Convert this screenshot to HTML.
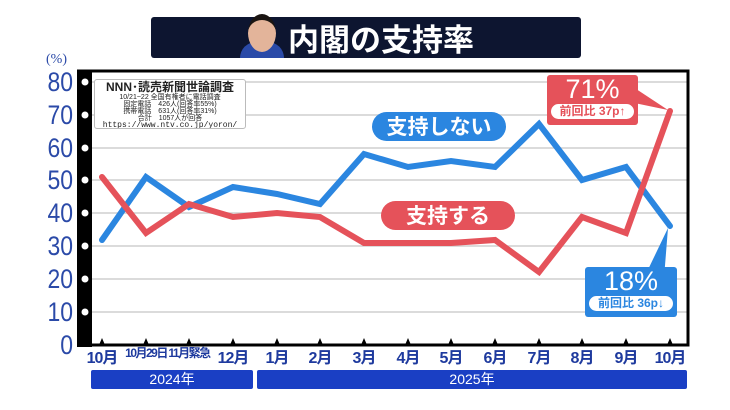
<!DOCTYPE html>
<html><head><meta charset="utf-8"><style>
body{margin:0;width:730px;height:410px;background:#fff;overflow:hidden;position:relative;font-family:"Liberation Sans","Noto Sans CJK JP",sans-serif}
.a{position:absolute}
.yl{position:absolute;right:657px;width:60px;text-align:right;color:#2b4aa8;font-family:"Liberation Sans","Noto Sans CJK JP",sans-serif;font-size:27px;line-height:29px;transform:scaleX(0.85);transform-origin:right}
.ml{position:absolute;top:344px;width:50px;text-align:center;color:#1e3a9e;font-weight:bold;font-size:16px;letter-spacing:-1px;white-space:nowrap;font-family:"Liberation Sans","Noto Sans CJK JP",sans-serif}
</style></head><body>
<div class="a" style="left:151px;top:17px;width:430px;height:41px;background:#0d1530;border-radius:3px"></div>
<div class="a" style="left:288px;top:17px;height:41px;line-height:41px;color:#fff;font-size:31px;font-weight:bold;font-family:'Noto Sans CJK JP',sans-serif">内閣の支持率</div>
<div class="a" style="left:240px;top:42px;width:44px;height:16px;background:#2a4aa8;border-radius:20px 20px 0 0"></div>
<div class="a" style="left:248px;top:14px;width:28px;height:32px;background:#e3b49a;border-radius:50%;border-top:6px solid #1a1512"></div>
<div class="a" style="left:46px;top:52px;color:#2b4aa8;font-size:14px;font-family:'Liberation Serif',serif">(%)</div>
<svg class="a" style="left:0;top:0" width="730" height="410">
<g stroke="#cfcfcf" stroke-width="1.5">
<line x1="92" x2="688" y1="82" y2="82"/><line x1="92" x2="688" y1="115" y2="115"/><line x1="92" x2="688" y1="148" y2="148"/><line x1="92" x2="688" y1="180" y2="180"/><line x1="92" x2="688" y1="213" y2="213"/><line x1="92" x2="688" y1="246" y2="246"/><line x1="92" x2="688" y1="279" y2="279"/><line x1="92" x2="688" y1="312" y2="312"/>
</g>
<rect x="77" y="71" width="15" height="276" fill="#000"/>
<g fill="#fff"><circle cx="85" cy="82" r="3.5"/><circle cx="85" cy="115" r="3.5"/><circle cx="85" cy="148" r="3.5"/><circle cx="85" cy="180" r="3.5"/><circle cx="85" cy="213" r="3.5"/><circle cx="85" cy="246" r="3.5"/><circle cx="85" cy="279" r="3.5"/><circle cx="85" cy="312" r="3.5"/></g>
<polyline points="77,71 688,71 688,345 92,345" fill="none" stroke="#000" stroke-width="3"/>
<g fill="#000"><path d="M99,345 l3,-7 l3,7z"/><path d="M143,345 l3,-7 l3,7z"/><path d="M186,345 l3,-7 l3,7z"/><path d="M230,345 l3,-7 l3,7z"/><path d="M274,345 l3,-7 l3,7z"/><path d="M317,345 l3,-7 l3,7z"/><path d="M361,345 l3,-7 l3,7z"/><path d="M405,345 l3,-7 l3,7z"/><path d="M448,345 l3,-7 l3,7z"/><path d="M492,345 l3,-7 l3,7z"/><path d="M536,345 l3,-7 l3,7z"/><path d="M579,345 l3,-7 l3,7z"/><path d="M623,345 l3,-7 l3,7z"/><path d="M667,345 l3,-7 l3,7z"/></g>
<polyline fill="none" stroke="#2b86e0" stroke-width="6" stroke-linejoin="miter" stroke-linecap="round" points="102,240 146,177 189,207 233,187 277,194 320,204 364,154 408,167 451,161 495,167 539,124 582,180 626,167 670,226"/>
<polyline fill="none" stroke="#e5525a" stroke-width="6" stroke-linecap="round" points="102,177 146,233 189,204 233,217 277,213 320,217 364,243 408,243 451,243 495,240 539,272 582,217 626,233 670,111"/>
<path d="M620,100 L668,110 L630,85z" fill="#e5525a"/>
<path d="M644,278 L668,228 L664,278z" fill="#2b86e0"/>
</svg>
<div class="a" style="left:94px;top:79px;width:150px;height:48px;background:#fff;border:1.5px solid #bbb;border-radius:3px;text-align:center;color:#222;line-height:7px;font-size:7px;overflow:hidden">
<div style="font-size:12px;font-weight:bold;line-height:13px;margin-top:1px">NNN･読売新聞世論調査</div>
<div>10/21~22 全国有権者に電話調査</div><div>固定電話　426人(回答率55%)</div><div>携帯電話　631人(回答率31%)</div><div>合計　1057人が回答</div><div style="font-family:'Liberation Mono',monospace;font-size:8px;line-height:8px">https://www.ntv.co.jp/yoron/</div></div>
<div class="yl" style="top:68px">80</div><div class="yl" style="top:101px">70</div><div class="yl" style="top:134px">60</div><div class="yl" style="top:166px">50</div><div class="yl" style="top:199px">40</div><div class="yl" style="top:232px">30</div><div class="yl" style="top:265px">20</div><div class="yl" style="top:298px">10</div><div class="yl" style="top:331px">0</div>
<div class="a" style="left:372px;top:112px;width:134px;height:29px;background:#2b86e0;border-radius:15px;color:#fff;text-align:center;line-height:29px;font-size:21px;font-weight:bold;font-family:'Noto Sans CJK JP',sans-serif">支持しない</div>
<div class="a" style="left:381px;top:201px;width:134px;height:29px;background:#e5525a;border-radius:15px;color:#fff;text-align:center;line-height:29px;font-size:21px;font-weight:bold;font-family:'Noto Sans CJK JP',sans-serif">支持する</div>
<div class="a" style="left:547px;top:75px;width:91px;height:50px;background:#e5525a;border-radius:3px;color:#fff;text-align:center">
<div style="font-size:27px;line-height:28px">71%</div>
<div style="margin:1px 4px;background:#fff;border-radius:8px;color:#e5525a;font-size:12px;line-height:15px;font-weight:bold">前回比 37p↑</div></div>
<div class="a" style="left:585px;top:267px;width:92px;height:50px;background:#2b86e0;border-radius:3px;color:#fff;text-align:center">
<div style="font-size:27px;line-height:28px">18%</div>
<div style="margin:1px 4px;background:#fff;border-radius:8px;color:#2b86e0;font-size:12px;line-height:15px;font-weight:bold">前回比 36p↓</div></div>
<div class="ml" style="left:77px">10月</div><div class="ml" style="left:121px;font-size:12px;letter-spacing:-1.5px">10月29日</div><div class="ml" style="left:164px;font-size:12px;letter-spacing:-1.5px">11月緊急</div><div class="ml" style="left:208px">12月</div><div class="ml" style="left:252px">1月</div><div class="ml" style="left:295px">2月</div><div class="ml" style="left:339px">3月</div><div class="ml" style="left:383px">4月</div><div class="ml" style="left:426px">5月</div><div class="ml" style="left:470px">6月</div><div class="ml" style="left:514px">7月</div><div class="ml" style="left:557px">8月</div><div class="ml" style="left:601px">9月</div><div class="ml" style="left:645px">10月</div>
<div class="a" style="left:91px;top:370px;width:162px;height:19px;background:#1a3fc4;border-radius:2px;color:#fff;text-align:center;line-height:19px;font-size:14px">2024年</div>
<div class="a" style="left:257px;top:370px;width:430px;height:19px;background:#1a3fc4;border-radius:2px;color:#fff;text-align:center;line-height:19px;font-size:14px">2025年</div>
</body></html>
